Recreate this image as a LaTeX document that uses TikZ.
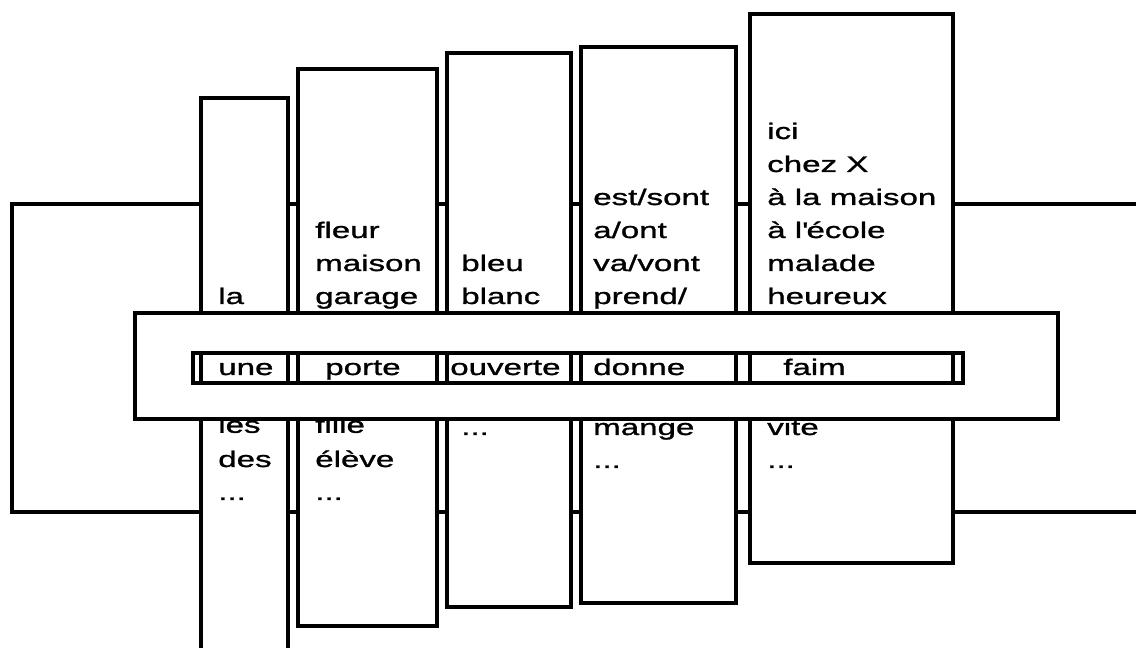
\documentclass[tikz,border=0pt]{standalone}
\usepackage{fontspec}
\setmainfont[FakeStretch=1.47,FakeBold=1.2]{Liberation Sans}

\tikzset{
  band/.style={draw, line width=2.6pt, fill=white},
  rim/.style={line width=2.6pt},
  word/.style={anchor=base west, inner sep=0pt, font=\fontsize{16pt}{19pt}\selectfont},
}

\begin{document}
\begin{tikzpicture}
\useasboundingbox (0,0) rectangle (28.4,16.2);
\clip (0,0) rectangle (28.4,16.2);
%frame behind the strips
\draw[rim] (5.025,11.1) -- (0.3,11.1) -- (0.3,3.4) -- (5.025,3.4);
\draw[rim] (7.2,11.1) -- (7.45,11.1);
\draw[rim] (10.925,11.1) -- (11.175,11.1);
\draw[rim] (14.275,11.1) -- (14.525,11.1);
\draw[rim] (18.4,11.1) -- (18.75,11.1);
\draw[rim] (7.2,3.4) -- (7.45,3.4);
\draw[rim] (10.925,3.4) -- (11.175,3.4);
\draw[rim] (14.275,3.4) -- (14.525,3.4);
\draw[rim] (18.4,3.4) -- (18.75,3.4);
\draw[rim] (23.825,11.1) -- (29,11.1);
\draw[rim] (23.825,3.4) -- (29,3.4);
%strips
\draw[band] (5.025,-0.5) rectangle (7.2,13.75);
\draw[band] (7.45,0.55) rectangle (10.925,14.475);
\draw[band] (11.175,1.025) rectangle (14.275,14.875);
\draw[band] (14.525,1.125) rectangle (18.4,15.025);
\draw[band] (18.75,2.125) rectangle (23.825,15.85);
%words, strip 1
\node[word] (la) at (5.45,8.6) {la};
\node[word] (les) at (5.45,5.38) {les};
\node[word] (des) at (5.45,4.525) {des};
\node[word] (etc1) at (5.45,3.7) {...};
%strip 2
\node[word] (fleur) at (7.875,10.25) {fleur};
\node[word] (maison) at (7.875,9.425) {maison};
\node[word] (garage) at (7.875,8.6) {garage};
\node[word] (fille) at (7.875,5.38) {fille};
\node[word] (eleve) at (7.875,4.525) {élève};
\node[word] (etc2) at (7.875,3.7) {...};
%strip 3
\node[word] (bleu) at (11.525,9.425) {bleu};
\node[word] (blanc) at (11.525,8.6) {blanc};
\node[word] (etc3) at (11.525,5.325) {...};
%strip 4
\node[word] (est) at (14.825,11.075) {est/sont};
\node[word] (a) at (14.825,10.25) {a/ont};
\node[word] (va) at (14.825,9.425) {va/vont};
\node[word] (prend) at (14.825,8.6) {prend/};
\node[word] (mange) at (14.825,5.325) {mange};
\node[word] (etc4) at (14.825,4.5) {...};
%strip 5
\node[word] (ici) at (19.175,12.725) {ici};
\node[word] (chez) at (19.175,11.9) {chez X};
\node[word] (maisonb) at (19.175,11.075) {à la maison};
\node[word] (ecole) at (19.175,10.25) {à l\textquotesingle école};
\node[word] (malade) at (19.175,9.425) {malade};
\node[word] (heureux) at (19.175,8.6) {heureux};
\node[word] (vite) at (19.175,5.325) {vite};
\node[word] (etc5) at (19.175,4.5) {...};
%slider with its window
\draw[band] (3.375,5.725) rectangle (26.45,8.375);
\draw[band] (4.825,6.625) rectangle (24.075,7.375);
\draw[rim] (5.025,6.625) -- (5.025,7.375) (7.2,6.625) -- (7.2,7.375)
  (7.45,6.625) -- (7.45,7.375) (10.925,6.625) -- (10.925,7.375)
  (11.175,6.625) -- (11.175,7.375) (14.275,6.625) -- (14.275,7.375)
  (14.525,6.625) -- (14.525,7.375) (18.4,6.625) -- (18.4,7.375)
  (18.75,6.625) -- (18.75,7.375) (23.825,6.625) -- (23.825,7.375);
\node[word] (une) at (5.45,6.825) {une};
\node[word] (porte) at (8.125,6.825) {porte};
\node[word] (ouverte) at (11.25,6.825) {ouverte};
\node[word] (donne) at (14.825,6.825) {donne};
\node[word] (faim) at (19.575,6.825) {faim};
\end{tikzpicture}
\end{document}
